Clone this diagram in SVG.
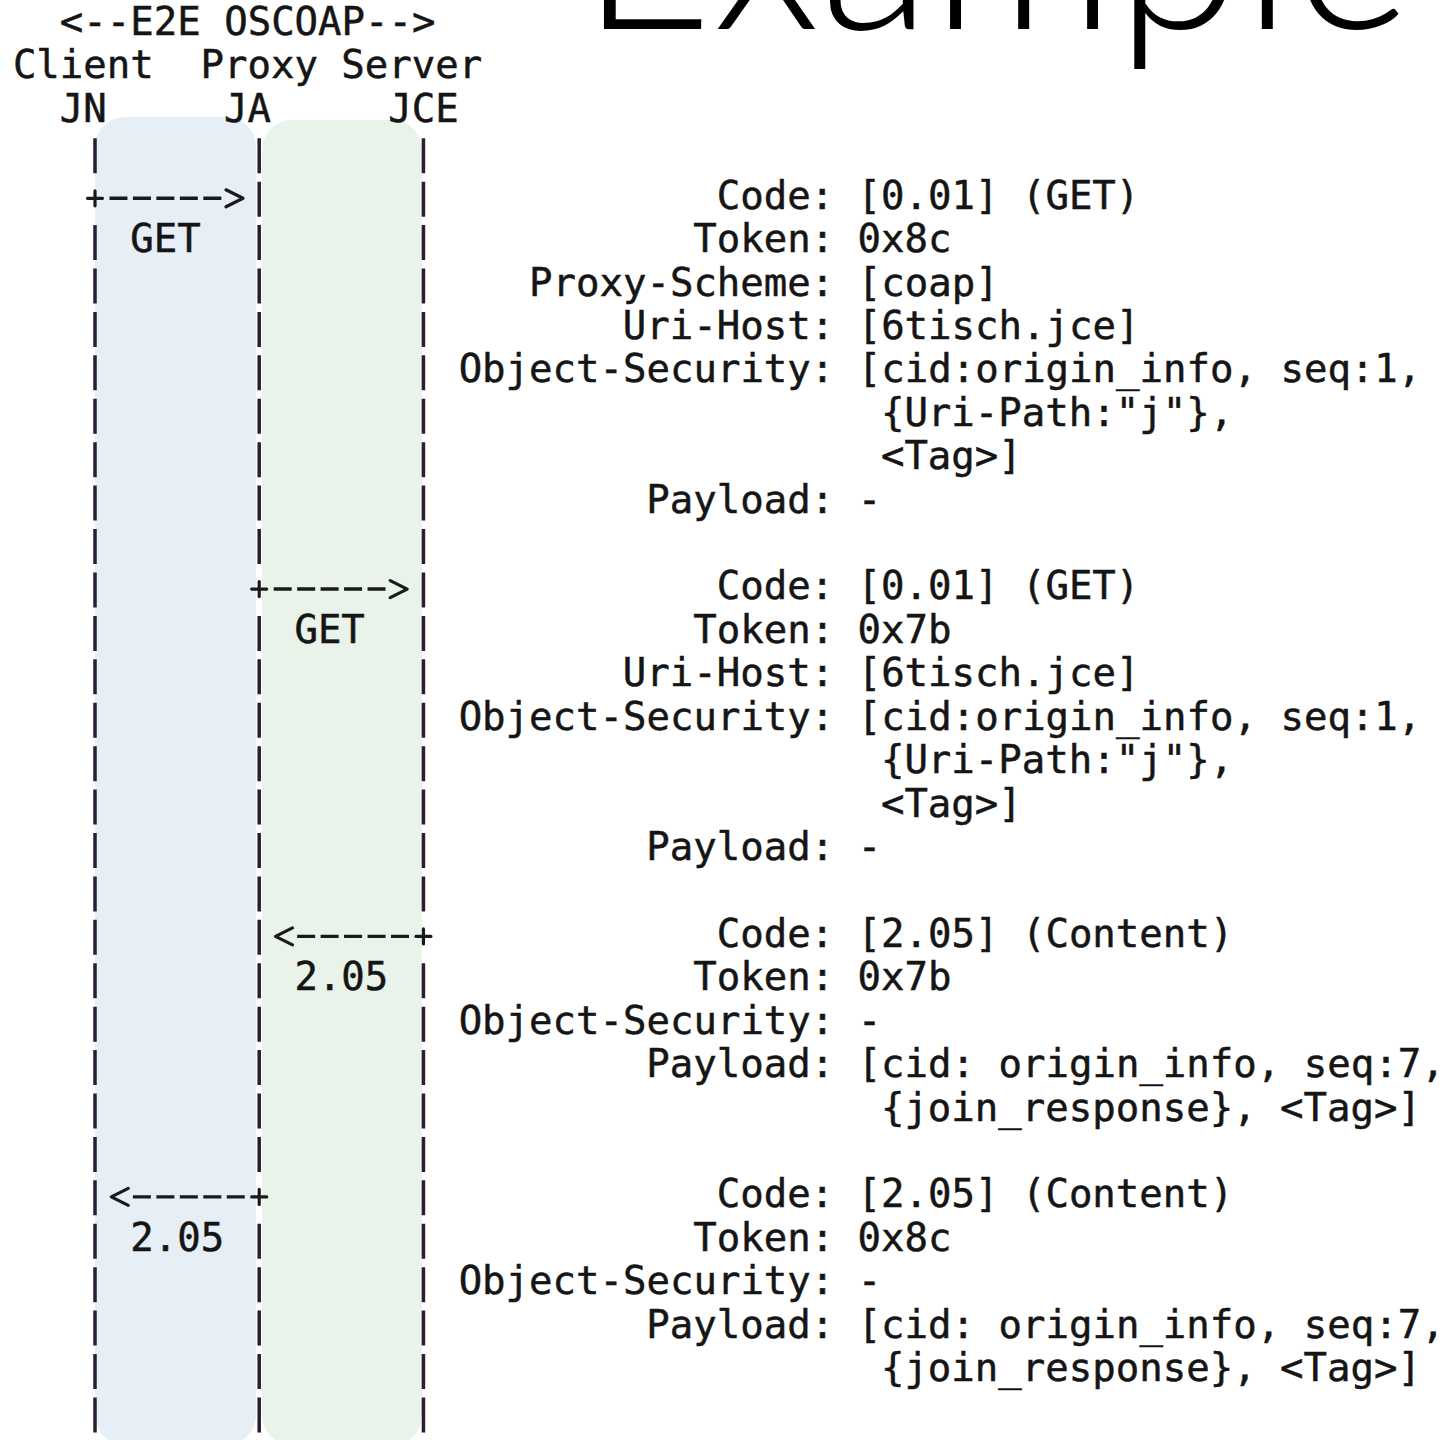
<svg xmlns="http://www.w3.org/2000/svg" width="1444" height="1440" viewBox="0 0 1444 1440">
<defs>
<style>
.m{font-family:"DejaVu Sans Mono","Liberation Mono",monospace;font-size:39px;fill:#151515;stroke:#151515;stroke-width:0.5}
.title{font-family:Lato,"Open Sans","Liberation Sans",sans-serif;font-weight:300;font-size:232px;fill:#000}
.life{stroke:#2b1d33;stroke-width:3.5;stroke-dasharray:35 8.42;fill:none}
.dash{stroke:#1a1a1a;stroke-width:3.4;stroke-dasharray:18 5.46;fill:none}
.glyph{stroke:#1a1a1a;stroke-width:3.2;fill:none;stroke-linecap:round;stroke-linejoin:round}
</style>
</defs>
<rect width="1444" height="1440" fill="#fff"/>
<text class="title" x="580" y="29" textLength="832" lengthAdjust="spacingAndGlyphs">Example</text>
<rect x="95" y="117" width="161" height="1328" rx="30" fill="#e7eff6"/>
<rect x="262" y="120" width="160" height="1325" rx="30" fill="#e9f3ea"/>
<text class="m" x="59.82" y="35">&lt;--E2E OSCOAP--&gt;</text>
<g id="client">
<text class="m" x="12.9" y="78.42">Client</text>
<text class="m" x="59.82" y="121.84">JN</text>
<line class="life" x1="95" y1="138.26" x2="95" y2="173.26"/>
<line class="life" x1="95" y1="225.1" x2="95" y2="1440"/>
</g>
<g id="proxy">
<text class="m" x="200.58" y="78.42">Proxy</text>
<text class="m" x="224.04" y="121.84">JA</text>
<line class="life" x1="259.2" y1="138.26" x2="259.2" y2="564.04"/>
<line class="life" x1="259.2" y1="615.88" x2="259.2" y2="1171.92"/>
<line class="life" x1="259.2" y1="1223.76" x2="259.2" y2="1440"/>
</g>
<g id="server">
<text class="m" x="341.34" y="78.42">Server</text>
<text class="m" x="388.26" y="121.84">JCE</text>
<line class="life" x1="423.45" y1="138.26" x2="423.45" y2="911.4"/>
<line class="life" x1="423.45" y1="963.24" x2="423.45" y2="1440"/>
</g>
<g id="connectors">
<g id="m1">
<path class="glyph" d="M87.5 198.3H102.5M95 190.8V205.8"/>
<line class="dash" x1="109.47" y1="198.3" x2="221.31" y2="198.3"/>
<polyline class="glyph" points="226,189.8 243,198.3 226,206.8"/>
<text class="m" x="130.2" y="252.1">GET</text>
</g>
<g id="m2">
<path class="glyph" d="M251.7 589.06H266.7M259.2 581.56V596.56"/>
<line class="dash" x1="273.69" y1="589.06" x2="385.53" y2="589.06"/>
<polyline class="glyph" points="390.2,580.56 407.2,589.06 390.2,597.56"/>
<text class="m" x="294.42" y="642.88">GET</text>
</g>
<g id="m3">
<polyline class="glyph" points="292.5,927.9 275.5,936.4 292.5,944.9"/>
<line class="dash" x1="297.15" y1="936.4" x2="408.99" y2="936.4"/>
<path class="glyph" d="M415.95 936.4H430.95M423.45 928.9V943.9"/>
<text class="m" x="294.42" y="990.24">2.05</text>
</g>
<g id="m4">
<polyline class="glyph" points="128.3,1188.4 111.3,1196.9 128.3,1205.4"/>
<line class="dash" x1="132.93" y1="1196.9" x2="244.77" y2="1196.9"/>
<path class="glyph" d="M251.7 1196.9H266.7M259.2 1189.4V1204.4"/>
<text class="m" x="130.2" y="1250.76">2.05</text>
</g>
</g>
<g id="note1">
<text class="m" x="716.7" y="208.68">Code: [0.01] (GET)</text>
<text class="m" x="693.24" y="252.1">Token: 0x8c</text>
<text class="m" x="529.02" y="295.52">Proxy-Scheme: [coap]</text>
<text class="m" x="622.86" y="338.94">Uri-Host: [6tisch.jce]</text>
<text class="m" x="458.64" y="382.36">Object-Security: [cid:origin_info, seq:1,</text>
<text class="m" x="880.92" y="425.78">{Uri-Path:"j"},</text>
<text class="m" x="880.92" y="469.2">&lt;Tag&gt;]</text>
<text class="m" x="646.32" y="512.62">Payload: -</text>
</g>
<g id="note2">
<text class="m" x="716.7" y="599.46">Code: [0.01] (GET)</text>
<text class="m" x="693.24" y="642.88">Token: 0x7b</text>
<text class="m" x="622.86" y="686.3">Uri-Host: [6tisch.jce]</text>
<text class="m" x="458.64" y="729.72">Object-Security: [cid:origin_info, seq:1,</text>
<text class="m" x="880.92" y="773.14">{Uri-Path:"j"},</text>
<text class="m" x="880.92" y="816.56">&lt;Tag&gt;]</text>
<text class="m" x="646.32" y="859.98">Payload: -</text>
</g>
<g id="note3">
<text class="m" x="716.7" y="946.82">Code: [2.05] (Content)</text>
<text class="m" x="693.24" y="990.24">Token: 0x7b</text>
<text class="m" x="458.64" y="1033.66">Object-Security: -</text>
<text class="m" x="646.32" y="1077.08">Payload: [cid: origin_info, seq:7,</text>
<text class="m" x="880.92" y="1120.5">{join_response}, &lt;Tag&gt;]</text>
</g>
<g id="note4">
<text class="m" x="716.7" y="1207.34">Code: [2.05] (Content)</text>
<text class="m" x="693.24" y="1250.76">Token: 0x8c</text>
<text class="m" x="458.64" y="1294.18">Object-Security: -</text>
<text class="m" x="646.32" y="1337.6">Payload: [cid: origin_info, seq:7,</text>
<text class="m" x="880.92" y="1381.02">{join_response}, &lt;Tag&gt;]</text>
</g>
</svg>
